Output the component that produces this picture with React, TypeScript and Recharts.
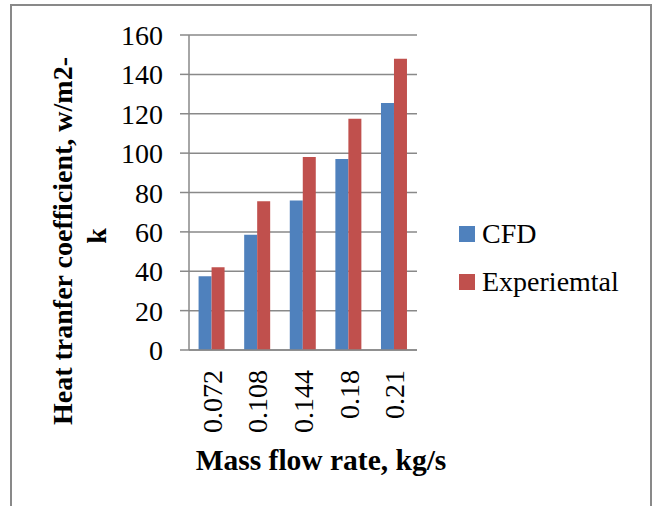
import React from 'react';
import { BarChart, Bar, XAxis, YAxis, CartesianGrid, Legend } from 'recharts';

const flowRates = ['0.072', '0.108', '0.144', '0.18', '0.21'];
const cfdValues = [37.5, 58.5, 76, 97, 125.5];
const experimentalValues = [42, 75.5, 98, 117.5, 148];
const yTicks = [0, 20, 40, 60, 80, 100, 120, 140, 160];

const seriesNames = ['CFD', 'Experiemtal'];
const seriesColors = ['#4F81BD', '#C0504D'];

const serif = "'Liberation Serif', 'Times New Roman', serif";
const gray = '#898989';

const data = flowRates.map((rate, i) => ({
  rate,
  cfd: cfdValues[i],
  exp: experimentalValues[i],
}));

const YTick = (props: any) => {
  const { x, y, payload } = props;
  return (
    <text x={x - 15} y={y + 10} textAnchor="end" fontFamily={serif} fontSize={28} fill="#000">
      {payload.value}
    </text>
  );
};

const XTick = (props: any) => {
  const { x, y, payload } = props;
  const tx = x + 10;
  const ty = y + 12;
  return (
    <text
      x={tx}
      y={ty}
      textAnchor="end"
      transform={`rotate(-90, ${tx}, ${ty})`}
      fontFamily={serif}
      fontSize={28}
      fill="#000"
    >
      {payload.value}
    </text>
  );
};

const LegendBox = () => (
  <svg width={190} height={100} style={{ overflow: 'visible', display: 'block' }}>
    {seriesNames.map((name, i) => (
      <g key={name} transform={`translate(0, ${i * 48})`}>
        <rect x={0} y={4} width={16} height={16} fill={seriesColors[i]} />
        <text x={23} y={21} fontFamily={serif} fontSize={28} fill="#000">
          {name}
        </text>
      </g>
    ))}
  </svg>
);

export default function App() {
  return (
    <div
      style={{
        position: 'fixed',
        left: 0,
        top: 0,
        width: 654,
        height: 506,
        overflow: 'hidden',
        background: '#fff',
      }}
    >
      <div
        style={{
          position: 'absolute',
          left: 10,
          top: 4,
          width: 638,
          height: 560,
          border: `2px solid ${gray}`,
        }}
      />
      <div style={{ position: 'absolute', left: 0, top: 0 }}>
        <BarChart
          width={654}
          height={506}
          data={data}
          margin={{ top: 35, right: 237, bottom: 0, left: 0 }}
          barCategoryGap="21%"
          barGap={0}
        >
          <CartesianGrid vertical={false} stroke={gray} strokeWidth={1.5} />
          <XAxis
            dataKey="rate"
            height={156}
            axisLine={{ stroke: gray, strokeWidth: 1.5 }}
            tickLine={false}
            tick={<XTick />}
            interval={0}
            label={{
              content: () => (
                <text x={321} y={470} textAnchor="middle" fontFamily={serif} fontSize={29.5} fontWeight="bold" fill="#000">
                  Mass flow rate, kg/s
                </text>
              ),
            }}
          />
          <YAxis
            width={189}
            domain={[0, 160]}
            ticks={yTicks}
            interval={0}
            axisLine={{ stroke: gray, strokeWidth: 1.5 }}
            tickLine={{ stroke: gray, strokeWidth: 1.5 }}
            tickSize={9}
            tick={<YTick />}
            label={{
              content: () => (
                <g transform="rotate(-90, 0, 0)">
                  <text x={-241} y={72} textAnchor="middle" fontFamily={serif} fontSize={28} fontWeight="bold" fill="#000">
                    Heat tranfer coefficient, w/m2-
                  </text>
                  <text x={-236} y={106} textAnchor="middle" fontFamily={serif} fontSize={28} fontWeight="bold" fill="#000">
                    k
                  </text>
                </g>
              ),
            }}
          />
          <Legend
            layout="vertical"
            align="center"
            verticalAlign="middle"
            content={<LegendBox />}
            wrapperStyle={{ left: 459, top: 222, width: 190, height: 100 }}
          />
          <Bar dataKey="cfd" name={seriesNames[0]} fill={seriesColors[0]} isAnimationActive={false} />
          <Bar dataKey="exp" name={seriesNames[1]} fill={seriesColors[1]} isAnimationActive={false} />
        </BarChart>
      </div>
    </div>
  );
}
